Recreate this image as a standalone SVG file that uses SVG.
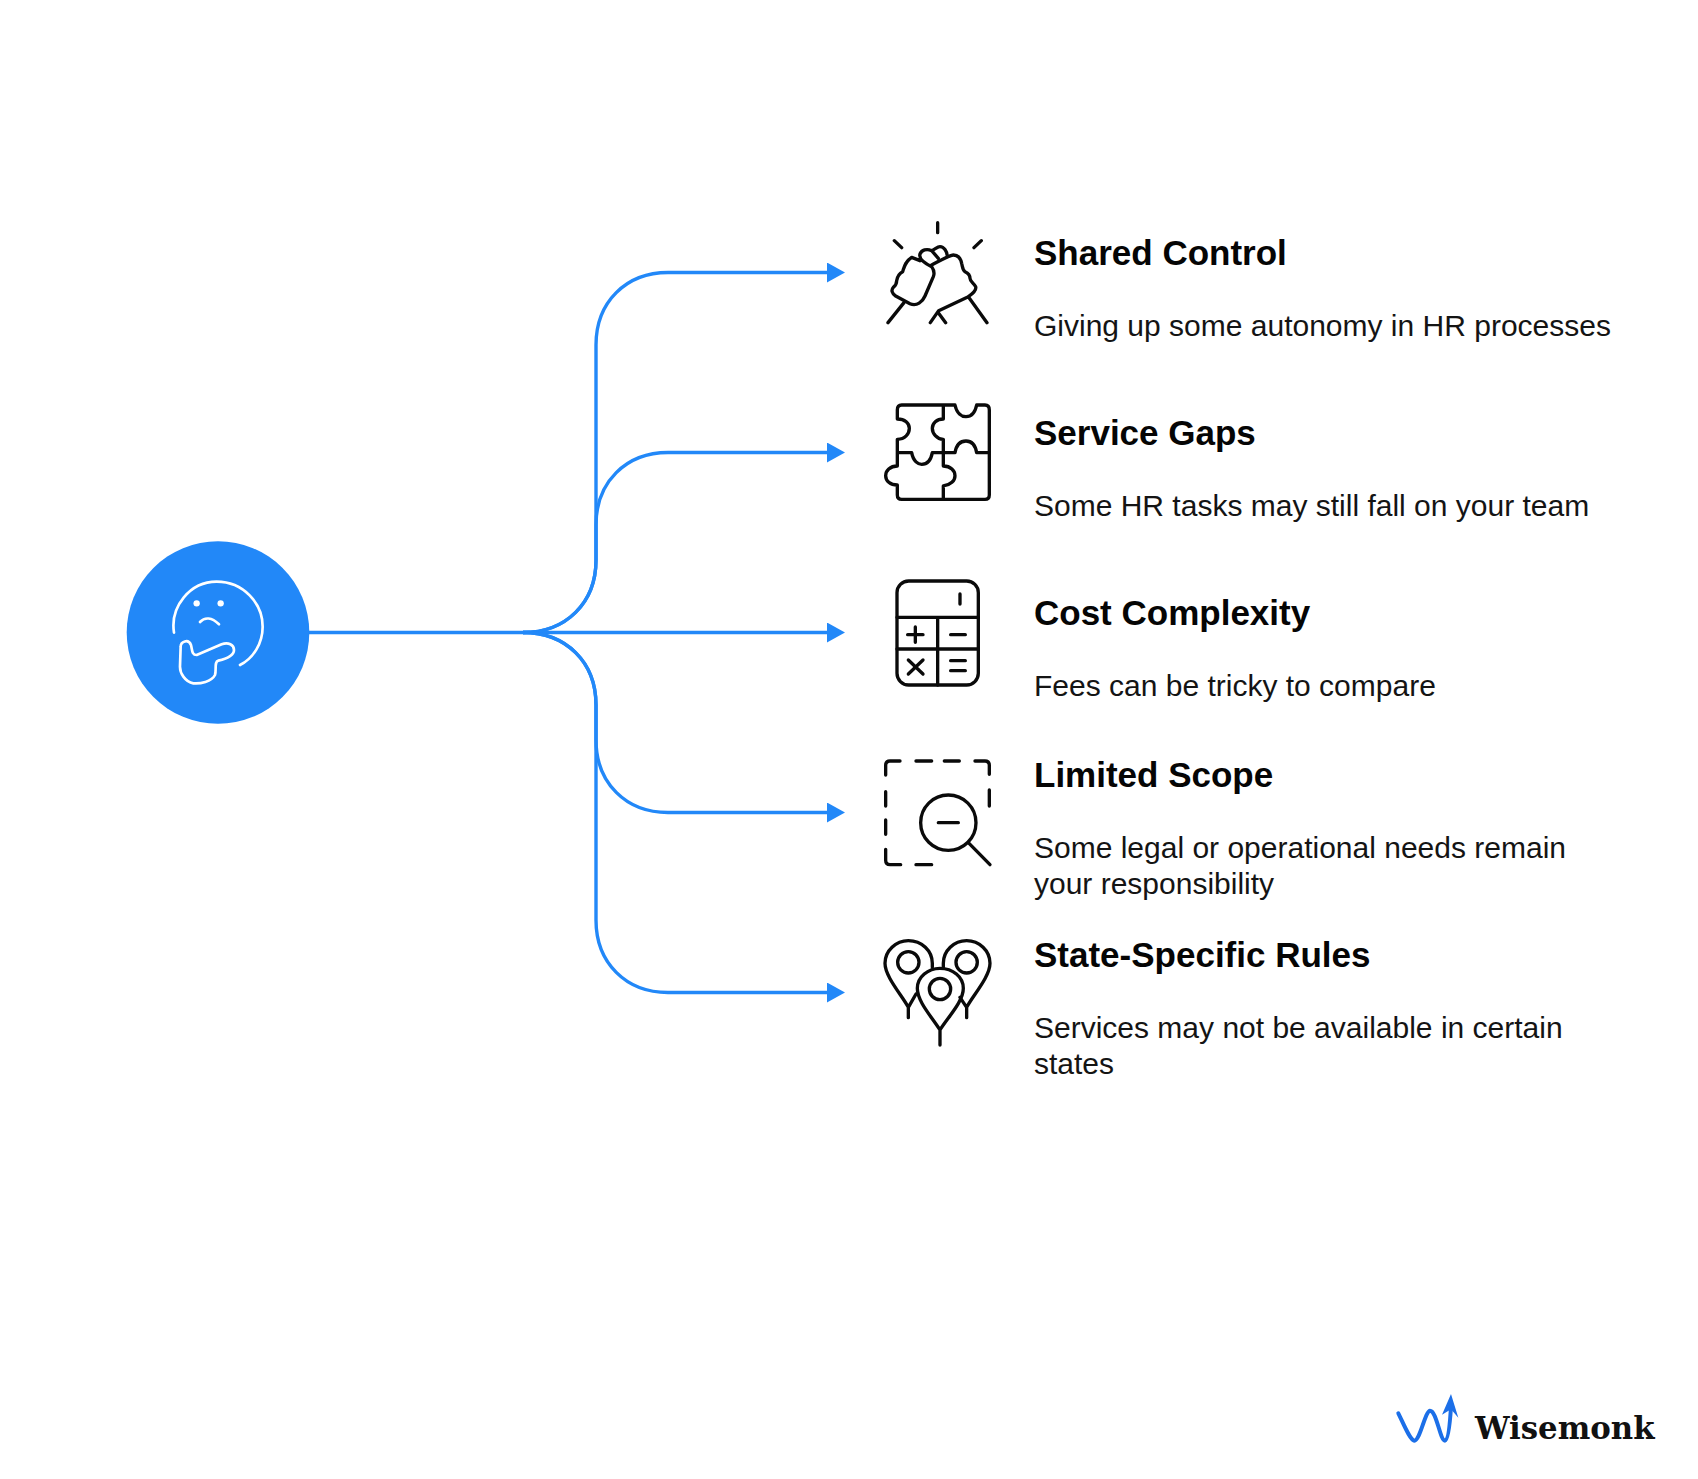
<svg xmlns="http://www.w3.org/2000/svg" width="1698" height="1479" viewBox="0 0 1698 1479">
<style>
.t{font:bold 35px "Liberation Sans",Arial,sans-serif;fill:#050505}
.d{font:30px "Liberation Sans",Arial,sans-serif;fill:#141414}
.c{fill:none;stroke:#2288f8;stroke-width:3.4}
.i{fill:none;stroke:#0a0a0a;stroke-width:10;stroke-linecap:round;stroke-linejoin:round}
.w{fill:none;stroke:#fff;stroke-width:8;stroke-linecap:round;stroke-linejoin:round}
</style>
<defs><marker id="a" markerUnits="userSpaceOnUse" markerWidth="18" markerHeight="20" refX="0" refY="10" orient="auto"><path d="M0 0L18 10L0 20Z" fill="#2288f8"/></marker></defs>
<rect width="1698" height="1479" fill="#fff"/>
<g id="connectors">
<path class="c" marker-end="url(#a)" d="M309 632.500H523C566 632.500 596 603 596 560V345C596 302 626 272.500 668 272.500H827"/>
<path class="c" marker-end="url(#a)" d="M523 632.500C566 632.500 596 603 596 560V525C596 482 626 452.500 668 452.500H827"/>
<path class="c" marker-end="url(#a)" d="M523 632.500H827"/>
<path class="c" marker-end="url(#a)" d="M523 632.500C566 632.500 596 662 596 705V740C596 783 626 812.500 668 812.500H827"/>
<path class="c" marker-end="url(#a)" d="M523 632.500C566 632.500 596 662 596 705V920C596 963 626 992.500 668 992.500H827"/>
</g>
<g id="source">
<circle cx="218" cy="632.500" r="91.300" fill="#2288f8"/>
<g transform="translate(110 530) scale(.3333)">
<path class="w" d="M192 308C180 230 240 155 320 155C400 155 458 220 458 290C458 340 430 385 390 405"/>
<circle cx="260" cy="220" r="9.500" fill="#fff"/><circle cx="332" cy="220" r="9.500" fill="#fff"/>
<path class="w" d="M270 276C285 260 305 262 327 283"/>
<path class="w" d="M212 350C212 335 235 325 243 345C247 360 245 375 260 375L335 343C355 335 372 345 372 360C372 375 355 385 325 392C312 395 320 420 315 435C305 455 270 462 250 460C225 455 210 430 210 410Z"/>
</g>
</g>
<g id="n1" transform="translate(860 210) scale(.3333)">
<path class="i" d="M233 38V68M103 92L125 113M364 92L342 113M132 278L84 338M325 260L381 338M211 338L236 302L325 260C340 250 350 240 347 230C342 220 330 215 330 205C330 195 322 188 315 185C308 180 308 172 305 160C302 145 295 135 280 135C270 135 262 140 215 165"/>
<path class="i" d="M262 140C262 125 252 110 240 110C232 110 225 118 215 122L235 145M236 310L257 338M215 122C200 115 185 120 180 132C176 145 190 158 215 170C222 180 224 190 220 200L195 258C188 275 170 290 150 281L107 258C95 250 93 240 100 232C108 225 110 220 110 212C112 200 118 190 128 185C133 170 135 155 155 142L180 152"/>
</g>
<g id="n2" transform="translate(860 210) scale(.3333)">
<path class="i" d="M112 600Q112 585 125 585H285C290 610 305 620 318 620C332 620 345 610 350 585H375Q388 585 388 600V855Q388 868 375 868H125Q112 868 112 855V825C90 825 77 812 77 797C77 782 90 768 112 768V728H155C160 755 175 763 185 763C197 763 212 755 217 728H250V688C230 688 217 670 217 655C217 640 230 627 250 627V585M250 728H285C290 700 305 693 318 693C332 693 345 700 350 728H388M250 728V768C272 768 285 782 285 797C285 812 272 825 250 828V868M112 728V688C135 688 148 672 148 655C148 640 135 627 112 627V600"/>
</g>
<g id="n3" transform="translate(860 570) scale(.3333)">
<rect class="i" x="111" y="33" width="244" height="312" rx="35"/>
<path class="i" d="M111 142H355M111 237H355M233 142V345M300 72V102M143 194H189M166 171V217M272 194H316M145 270L189 312M189 270L145 312M272 272H316M272 302H316"/>
</g>
<g id="n4" transform="translate(860 570) scale(.3333)">
<path class="i" d="M120 573H90Q77 573 77 586V615M168 573H215M253 573H298M345 573H375Q388 573 388 586V613M388 660V708M77 665V708M77 750V793M77 838V871Q77 884 90 884H122M168 884H215"/>
<circle class="i" cx="265" cy="758" r="83"/>
<path class="i" d="M235 758H295M325 818L390 884"/>
</g>
<g id="n5" transform="translate(860 920) scale(.3333)">
<path class="i" d="M145 293V262C125 225 75 170 75 130C75 92 108 62 145 62C185 62 217 92 217 130V142M145 262L168 222M320 293V262C340 225 390 170 390 130C390 92 358 62 320 62C282 62 250 92 250 130V142M320 262L300 232"/>
<circle class="i" cx="145" cy="127" r="32"/><circle class="i" cx="320" cy="127" r="32"/>
<path class="i" d="M240 375V330C215 290 172 245 172 205C172 170 205 145 240 145C278 145 310 170 310 205C310 245 265 290 240 330"/>
<circle class="i" cx="240" cy="207" r="32"/>
</g>
<g id="t1"><text class="t" x="1034" y="265">Shared Control</text><text class="d" x="1034" y="336">Giving up some autonomy in HR processes</text></g>
<g id="t2"><text class="t" x="1034" y="445">Service Gaps</text><text class="d" x="1034" y="516">Some HR tasks may still fall on your team</text></g>
<g id="t3"><text class="t" x="1034" y="625">Cost Complexity</text><text class="d" x="1034" y="696">Fees can be tricky to compare</text></g>
<g id="t4"><text class="t" x="1034" y="787">Limited Scope</text><text class="d" x="1034" y="858">Some legal or operational needs remain</text><text class="d" x="1034" y="894">your responsibility</text></g>
<g id="t5"><text class="t" x="1034" y="967">State-Specific Rules</text><text class="d" x="1034" y="1038">Services may not be available in certain</text><text class="d" x="1034" y="1074">states</text></g>
<g id="logo">
<g transform="translate(1380 1380) scale(.3333)">
<path d="M55 100C70 130 90 180 103 182C120 182 135 95 150 92C170 92 180 182 195 182C205 180 210 130 213 80" fill="none" stroke="#1c6fe8" stroke-width="12" stroke-linecap="round"/>
<path d="M213 42L235 113L213 88L186 104Z" fill="#1c6fe8"/>
</g>
<text x="1475" y="1439" style="font:bold 30.800px 'DejaVu Serif','Liberation Serif',serif;fill:#111">Wisemonk</text>
</g>
</svg>
